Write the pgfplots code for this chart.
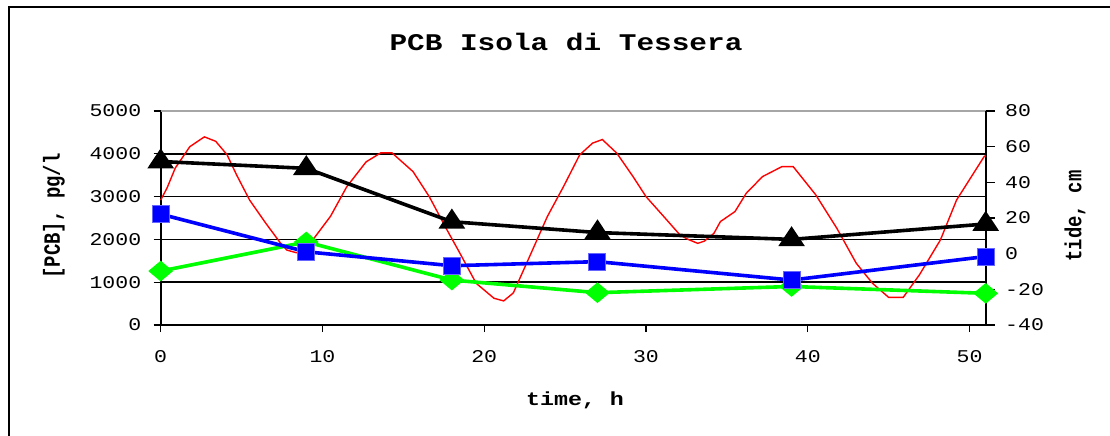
\documentclass[border=0pt]{standalone}
\usepackage{fontspec}
\usepackage{pgfplots}
\pgfplotsset{compat=1.18}
\setmainfont{Liberation Sans}
\newfontfamily\tickf[FakeStretch=1.2]{Liberation Mono}
\newfontfamily\labf[FakeStretch=1.23]{Liberation Mono}
\newfontfamily\labfr{Liberation Mono}
\definecolor{pcbgreen}{RGB}{0,255,0}
\definecolor{pcbblue}{RGB}{0,0,255}
\definecolor{tidered}{RGB}{255,0,0}
\begin{document}
\begin{tikzpicture}[x=1bp,y=1bp]
\pgfplotsset{
  common/.style={
    at={(160.7bp,111bp)}, anchor=south west,
    scale only axis, width=825bp, height=214bp,
    xmin=0, xmax=51, clip=false,
  },
}
% Primary frame with grid
\begin{axis}[common,
  ymin=0, ymax=5000,
  axis x line*=bottom, axis y line*=left,
  axis line style={-, line width=1.8bp, black},
  xtick={0,10,20,30,40,50}, xticklabels={0,10,20,30,40,50},
  ytick={0,1000,2000,3000,4000}, yticklabels={0,1000,2000,3000,4000},
  extra y ticks={5000}, extra y tick labels={5000},
  extra y tick style={grid style={gray!70, line width=1.8bp}},
  ymajorgrids, grid style={black, line width=1.7bp},
  tick align=outside, major tick length=7bp,
  tick style={black, line width=1.3bp},
  ticklabel style={font=\tickf\fontsize{18}{20}\selectfont},
  xticklabel style={yshift=-15bp},
  yticklabel style={xshift=-9bp},
]
\addplot[draw=none] coordinates {(0,0)};
\end{axis}
% Secondary axis: tide
\begin{axis}[common,
  ymin=-40, ymax=80,
  axis x line=none, axis y line*=right,
  axis line style={-, line width=1.8bp, black},
  ytick={-40,-20,0,20,40,60,80},
  yticklabels={-40,-20,0,20,40,60,80},
  tick align=outside, major tick length=9bp,
  tick style={black, line width=1.3bp},
  ticklabel style={font=\tickf\fontsize{18}{20}\selectfont},
  yticklabel style={xshift=7bp},
]
\addplot[tidered, line width=1.4bp, mark=none] coordinates {
(0.0,30) (0.4,37) (0.9,48) (1.8,60) (2.7,65.5) (3.4,63) (4.1,55.5) (4.7,44)
(5.5,30) (6.5,17) (7.4,6) (7.8,2) (8.4,0.5) (9.0,2) (9.4,7.7) (10.5,21)
(11.5,37.5) (12.7,51.5) (13.6,56.5) (14.3,56.5) (15.6,46) (16.6,32) (17.7,13.3)
(18.5,0.2) (19.5,-16.6) (20.6,-25) (21.2,-26.5) (21.8,-22) (22.8,-1.7) (23.9,20.8)
(24.9,37.6) (25.9,55.4) (26.7,62) (27.3,64) (28.2,56.3) (29.2,43.2) (30.0,32)
(31.1,20.8) (32.1,10.5) (32.6,8) (33.2,5.8) (33.6,7) (34.2,11.4) (34.6,18)
(35.5,23.6) (36.2,33.9) (37.2,43.2) (38.4,48.8) (39.1,48.8) (40.5,32.9) (41.8,14.2)
(43.0,-5.4) (44.0,-16.6) (45.0,-24.5) (45.9,-24.5) (46.9,-11.9) (48.2,7.7)
(49.2,30.1) (50.9,54.4) (51,55)
};
\end{axis}
% PCB series on top
\begin{axis}[common, ymin=0, ymax=5000, hide axis]
\addplot[pcbgreen, line width=3.6bp, mark=diamond*,
  mark size=8bp, mark options={solid, xscale=1.6, fill=pcbgreen, draw=pcbgreen}]
  coordinates {(0,1260) (9,1940) (18,1050) (27,755) (39,900) (51,740)};
\addplot[pcbblue, line width=3.6bp, mark=square*,
  mark size=8.5bp, mark options={solid, fill=pcbblue, draw=pcbblue!60!white, line width=1bp}]
  coordinates {(0,2590) (9,1710) (18,1385) (27,1480) (39,1050) (51,1600)};
\addplot[black, line width=3.6bp, mark=triangle*,
  mark size=10bp, mark options={solid, xscale=1.15, fill=black}]
  coordinates {(0,3820) (9,3660) (18,2413) (27,2160) (39,2000) (51,2360)};
\end{axis}
% Texts
\node[anchor=base] at (566bp,385bp) {\labf\bfseries\fontsize{24}{28}\selectfont PCB Isola di Tessera};
\node[anchor=base] at (575bp,31bp) {\labf\bfseries\fontsize{19}{22}\selectfont time, h};
\node[rotate=90] at (54bp,220bp) {\scalebox{1}[1.23]{\labfr\bfseries\fontsize{19}{22}\selectfont [PCB], pg/l}};
\node[rotate=90] at (1075bp,220bp) {\scalebox{1}[1.23]{\labfr\bfseries\fontsize{19}{22}\selectfont tide, cm}};
% Outer frame
\draw[line width=2bp] (8.5bp,0bp) -- (8.5bp,428.5bp) -- (1110bp,428.5bp);
\pgfresetboundingbox
\path[use as bounding box] (0bp,0bp) rectangle (1110bp,436bp);
\end{tikzpicture}
\end{document}
